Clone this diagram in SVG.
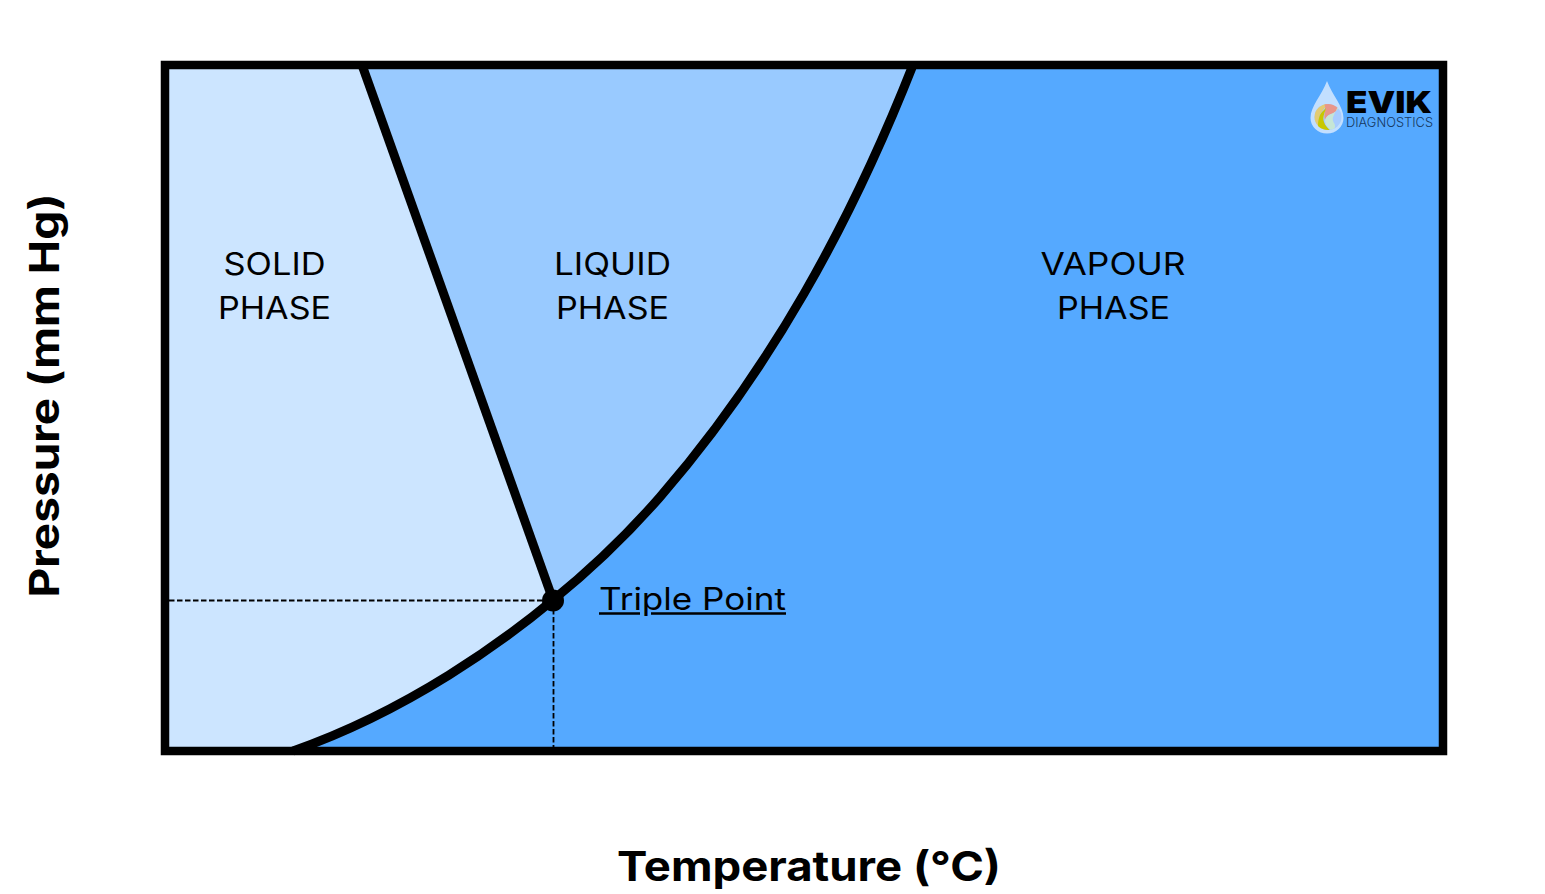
<svg xmlns="http://www.w3.org/2000/svg" width="1545" height="894" viewBox="0 0 1545 894">
<style>
.l{font-family:"Inter","Noto Sans","Liberation Sans",sans-serif;font-size:31px;fill:#000;text-anchor:middle}
.a{font-family:"Inter","Noto Sans","Liberation Sans",sans-serif;font-size:41px;font-weight:700;fill:#000;text-anchor:middle}
.c{fill:none;stroke:#000;stroke-width:9}
.d{fill:none;stroke:#000;stroke-width:1.800;stroke-dasharray:5.500 2.500}
</style>
<defs><clipPath id="ball"><ellipse cx="1328" cy="117" rx="13.500" ry="13"/></clipPath></defs>
<rect width="1545" height="894" fill="#fff"/>
<g id="regions">
<rect id="vapour-region" x="165" y="65" width="1278" height="686" fill="#55a9ff"/>
<path id="liquid-region" d="M362 65H913C850 225 770 370 660 497C625 537 590 570 553 600Z" fill="#99caff"/>
<path id="solid-region" d="M165 65H362L553 600C505 640 410 710 293 751H165Z" fill="#cce5ff"/>
</g>
<g id="connectors">
<path class="d" d="M169 600.500H553"/>
<path class="d" d="M553.500 601V747"/>
<path class="c" d="M362 65L553 600"/>
<path class="c" d="M913 65C850 225 770 370 660 497C625 537 590 570 553 600C505 640 410 710 293 751"/>
</g>
<g id="triple-point">
<circle cx="553" cy="600.500" r="11"/>
<text x="692.500" y="610" font-family="Inter,'Noto Sans','Liberation Sans',sans-serif" font-size="31" text-anchor="middle" textLength="187" lengthAdjust="spacingAndGlyphs">Triple Point</text>
<path d="M599 613.500H640M651 613.500H786" stroke="#000" stroke-width="2.500"/>
</g>
<g id="solid-label"><text class="l" x="274.500" y="275" textLength="102" lengthAdjust="spacingAndGlyphs">SOLID</text><text class="l" x="274.500" y="319" textLength="113" lengthAdjust="spacingAndGlyphs">PHASE</text></g>
<g id="liquid-label"><text class="l" x="612.500" y="275" textLength="117" lengthAdjust="spacingAndGlyphs">LIQUID</text><text class="l" x="612.500" y="319" textLength="113" lengthAdjust="spacingAndGlyphs">PHASE</text></g>
<g id="vapour-label"><text class="l" x="1113" y="275" textLength="145" lengthAdjust="spacingAndGlyphs">VAPOUR</text><text class="l" x="1113.500" y="319" textLength="113" lengthAdjust="spacingAndGlyphs">PHASE</text></g>
<g id="frame"><rect fill="none" stroke="#000" stroke-width="8.500" x="165" y="65" width="1278" height="686"/></g>
<g id="x-axis-label"><text class="a" x="809" y="881" textLength="384" lengthAdjust="spacingAndGlyphs">Temperature (°C)</text></g>
<g id="y-axis-label"><text class="a" transform="translate(59 395.500) rotate(-90)" x="0" y="0" textLength="404" lengthAdjust="spacingAndGlyphs">Pressure (mm Hg)</text></g>
<g id="logo">
<path d="M1327 81C1322 95 1310.500 106 1310.500 118A16.500 15.500 0 0 0 1343.500 118C1343.500 106 1332 95 1327 81Z" fill="#c2dfff"/>
<g clip-path="url(#ball)">
<rect x="1314" y="103" width="28" height="28" fill="#a8ccff"/>
<path d="M1314 103H1328C1324 110 1320 112 1319 118C1318 124 1322 128 1327 131H1314Z" fill="#e3cb72"/>
<path d="M1324 103H1337C1340 108 1336 112 1331 114C1328 115 1326 117 1325 120C1323 114 1327 110 1324 103Z" fill="#e8968a"/>
<path d="M1319 118C1320 113 1323 111 1326 108C1325 113 1322 117 1324 122C1325 126 1329 129 1331 131H1320C1317 128 1318 122 1319 118Z" fill="#c8c800"/>
<path d="M1331 114C1336 112 1339 109 1338 106C1334 116 1331 118 1334 123C1336 126 1335 129 1332 131C1328 128 1325 125 1325 120C1326 117 1328 115 1331 114Z" fill="#c6e6d6"/>
</g>
<text x="1346" y="113" font-family="Inter,'Liberation Sans',sans-serif" font-size="30" font-weight="900" textLength="86" lengthAdjust="spacingAndGlyphs">EVIK</text>
<text x="1346" y="127" font-family="Inter,'Liberation Sans',sans-serif" font-size="13" font-weight="300" fill="#15375e" textLength="87" lengthAdjust="spacingAndGlyphs">DIAGNOSTICS</text>
</g>
</svg>
